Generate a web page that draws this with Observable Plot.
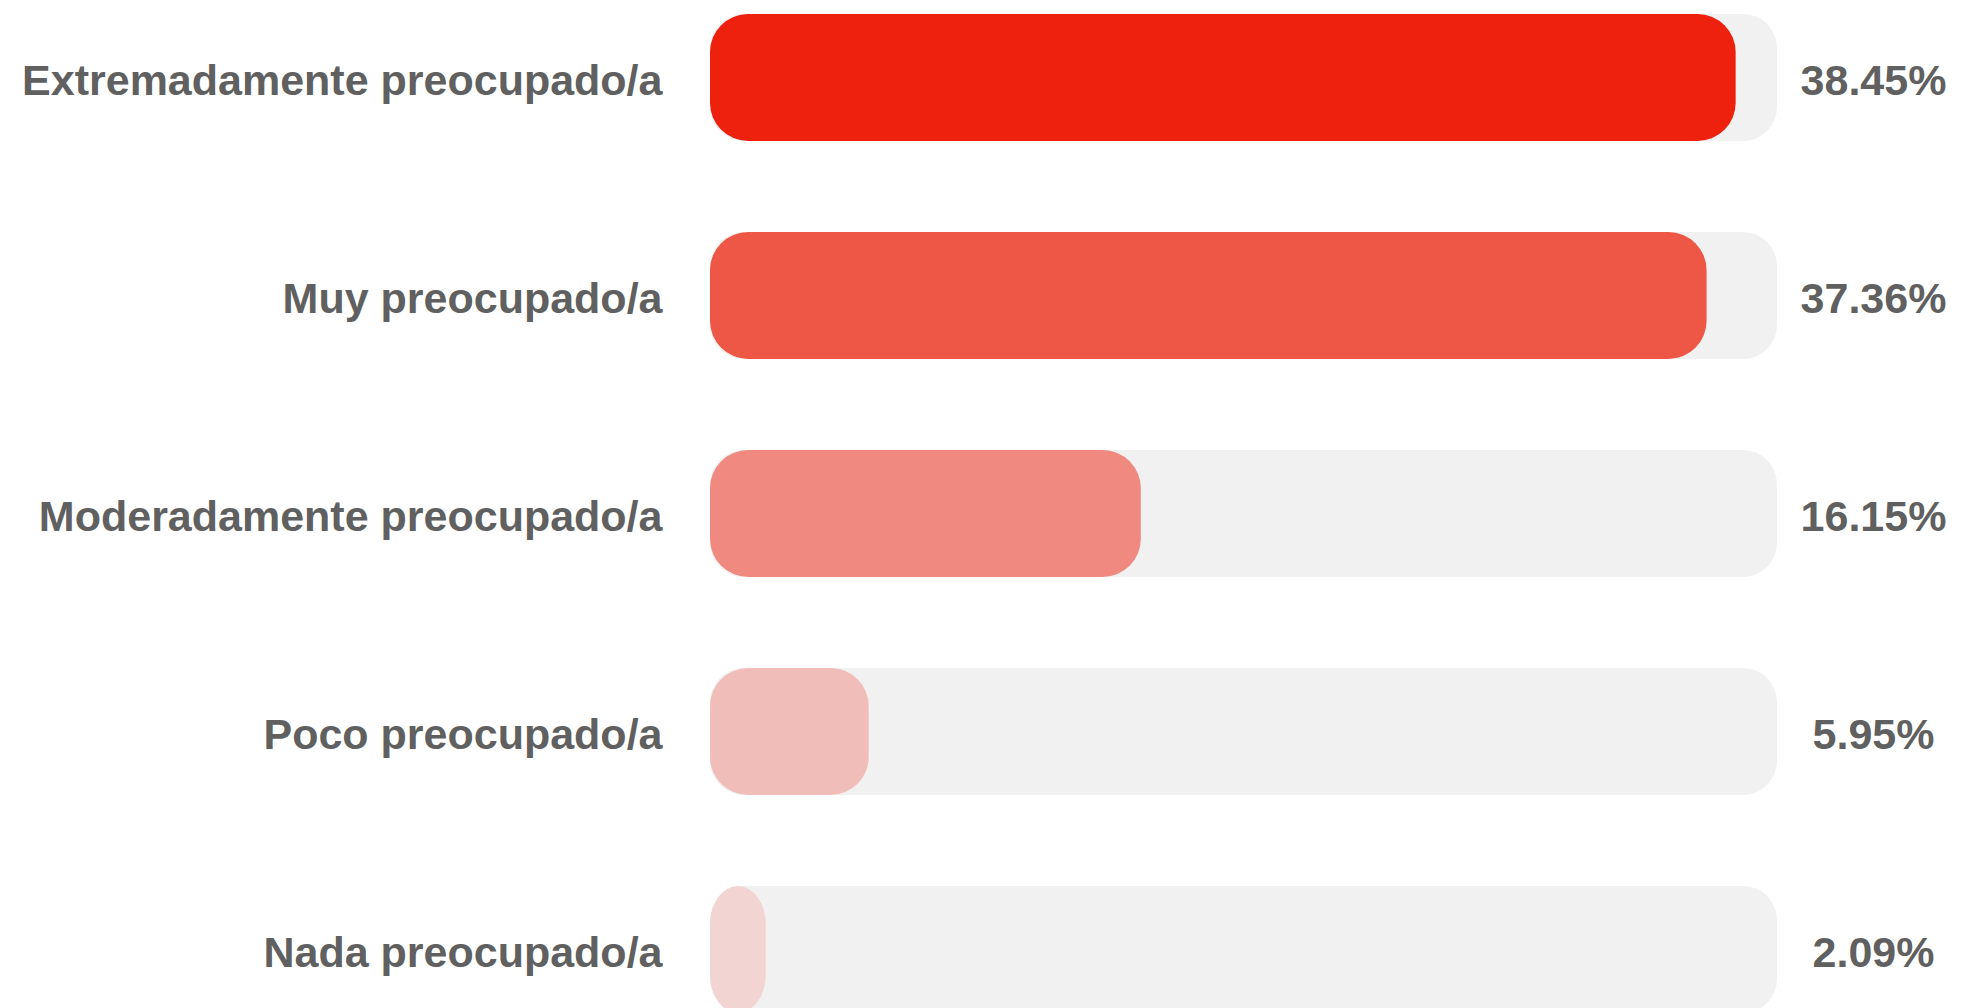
<!DOCTYPE html>
<html>
<head>
<meta charset="utf-8">
<script src="https://cdn.jsdelivr.net/npm/d3@7"></script>
<script src="https://cdn.jsdelivr.net/npm/@observablehq/plot@0.6"></script>
<style>
  html, body { margin: 0; padding: 0; background: #fff; overflow: hidden; }
  #chart svg { display: block; }
</style>
</head>
<body>
<div id="chart"></div>
<script>
const categories = [
  "Extremadamente preocupado/a",
  "Muy preocupado/a",
  "Moderadamente preocupado/a",
  "Poco preocupado/a",
  "Nada preocupado/a"
];
const values = [38.45, 37.36, 16.15, 5.95, 2.09];
const valueLabels = ["38.45%", "37.36%", "16.15%", "5.95%", "2.09%"];
const barColors = ["#ED210E", "#EE5746", "#F08A80", "#F1BDB9", "#F2D5D3"];
const trackColor = "#F1F1F1";
const maxValue = 40;

const data = categories.map((c, i) => ({
  category: c,
  value: values[i],
  label: valueLabels[i],
  color: barColors[i],
  max: maxValue
}));

const chart = Plot.plot({
  width: 1962,
  height: 1008,
  marginLeft: 710,
  marginRight: 185,
  marginTop: 0,
  marginBottom: 0,
  style: { fontFamily: "'Liberation Sans', Arial, sans-serif", background: "#fff" },
  x: { domain: [0, maxValue], axis: null },
  y: { domain: categories, range: [14, 1014], paddingInner: 0.417, paddingOuter: 0, axis: null },
  marks: [
    Plot.barX(data, { y: "category", x1: 0, x2: "max", fill: trackColor, rx: 34 }),
    Plot.barX(data, { y: "category", x1: 0, x2: "value", fill: "color", rx: 38 }),
    Plot.text(data, {
      y: "category", x: 0, text: "category", dx: -48, dy: 3, textAnchor: "end",
      fontSize: 43, fontWeight: "bold", fill: "#606060"
    }),
    Plot.text(data, {
      y: "category", x: maxValue, text: "label", dx: 96, dy: 3, textAnchor: "middle",
      fontSize: 43, fontWeight: "bold", fill: "#606060"
    })
  ]
});
document.getElementById("chart").appendChild(chart);
</script>
</body>
</html>
